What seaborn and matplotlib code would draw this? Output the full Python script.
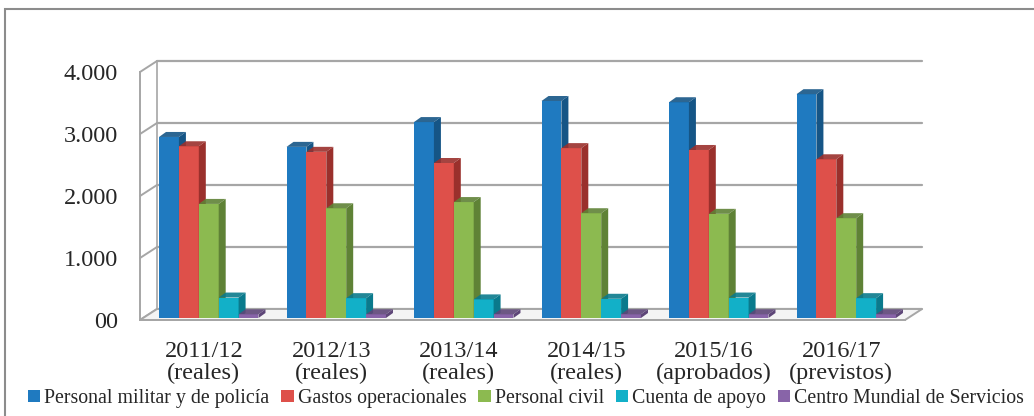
import matplotlib
matplotlib.use("Agg")
import matplotlib.pyplot as plt
import matplotlib.transforms as mtransforms
from matplotlib.patches import Polygon, Rectangle, Patch
import seaborn as sns
import pandas as pd
import numpy as np

# Datos (millones de dólares)
periodos = ["2011/12\n(reales)", "2012/13\n(reales)", "2013/14\n(reales)",
            "2014/15\n(reales)", "2015/16\n(aprobados)", "2016/17\n(previstos)"]
series = ["Personal militar y de policía", "Gastos operacionales", "Personal civil",
          "Cuenta de apoyo", "Centro Mundial de Servicios"]
militar = [2920, 2760, 3160, 3500, 3480, 3610]
gastos = [2770, 2680, 2500, 2740, 2710, 2560]
civil = [1840, 1770, 1870, 1690, 1680, 1610]
apoyo = [330, 320, 300, 310, 330, 320]
centro = [60, 60, 60, 60, 60, 60]
yticks = [0, 1000, 2000, 3000, 4000]
ylabels = ["00", "1.000", "2.000", "3.000", "4.000"]

front = ["#1f7ac0", "#de504a", "#8cba50", "#12b0c8", "#8864a8"]
side = ["#155586", "#9a302c", "#5f8236", "#0a7a8c", "#5e4678"]

df = pd.DataFrame({
    "periodo": periodos * 5,
    "serie": np.repeat(series, len(periodos)),
    "valor": militar + gastos + civil + apoyo + centro,
})

sns.set_style("white")
plt.rcParams["font.family"] = ["Liberation Serif", "DejaVu Serif"]

W, H = 1034, 416
fig = plt.figure(figsize=(W / 100, H / 100), dpi=100)
# front plane of the 3d box: x 140..905 px, y 320..72 px
ax = fig.add_axes([140 / W, (H - 320) / H, 765 / W, 248 / H])

sns.barplot(data=df, x="periodo", y="valor", hue="serie", palette=front,
            width=0.78, saturation=1, legend=False, ax=ax, zorder=3)
ax.set_xlim(-0.5, 5.5)
ax.set_ylim(0, 4000)

# px -> data units
ux = 6.0 / 765
uy = 4000 / 248
bx, by = 17 * ux, 11 * uy      # back wall depth
dx, dy = 7 * ux, 5 * uy        # bar depth
grid_c = "#a6a6a6"

# back wall gridlines + left wall diagonals
for v in yticks:
    ax.plot([-0.5 + bx, 5.5 + bx], [v + by, v + by], color=grid_c, lw=1.6,
            clip_on=False, zorder=1)
    ax.plot([-0.5, -0.5 + bx], [v, v + by], color=grid_c, lw=1.4,
            clip_on=False, zorder=1)
ax.plot([-0.5 + bx, -0.5 + bx], [by, 4000 + by], color=grid_c, lw=1.2,
        clip_on=False, zorder=1)

# floor
floor = Polygon([(-0.5, 0), (5.5, 0), (5.5 + bx, by), (-0.5 + bx, by)], closed=True,
                facecolor="#f4f4f4", edgecolor=grid_c, lw=1.4, clip_on=False, zorder=1.5)
ax.add_patch(floor)

# bars: shift slightly inside the box and add side / top faces
shift = mtransforms.ScaledTranslation(5 / 100, 2 / 100, fig.dpi_scale_trans)
n = len(periodos)
for i, p in enumerate(list(ax.patches)[:n * len(series)]):
    s = i // n
    z = 3 + s * 0.1
    p.set_transform(ax.transData + shift)
    p.set_zorder(z)
    p.set_edgecolor("none")
    x0, w, h = p.get_x(), p.get_width(), p.get_height()
    x1 = x0 + w
    sf = Polygon([(x1, 0), (x1 + dx, dy), (x1 + dx, h + dy), (x1, h)], closed=True,
                 facecolor=side[s], edgecolor="none", zorder=z,
                 transform=ax.transData + shift, clip_on=False)
    tp = Polygon([(x0, h), (x1, h), (x1 + dx, h + dy), (x0 + dx, h + dy)], closed=True,
                 facecolor=side[s], edgecolor="none", zorder=z, alpha=0.9,
                 transform=ax.transData + shift, clip_on=False)
    ax.add_patch(sf)
    ax.add_patch(tp)

# axes lines and ticks
for sp in ["top", "right"]:
    ax.spines[sp].set_visible(False)
for sp in ["left", "bottom"]:
    ax.spines[sp].set_color(grid_c)
    ax.spines[sp].set_linewidth(1.4)
    ax.spines[sp].set_zorder(2)
ax.set_yticks(yticks, ylabels)
ax.set_xticks(range(n), periodos)
ax.set_xticks(np.arange(-0.5, 6, 1), minor=True)
ax.tick_params(axis="y", length=4, color=grid_c, labelsize=17.5, pad=12)
ax.tick_params(axis="x", which="major", length=0, labelsize=17.5, pad=15)
ax.tick_params(axis="x", which="minor", length=5, color=grid_c)
for t in ax.get_xticklabels():
    t.set_linespacing(1.05)
ax.set_xlabel("")
ax.set_ylabel("")
ax.grid(False)

# outer chart frame
fig.add_artist(Rectangle((4.5 / W, -0.2), 1.2, (H - 8.5) / H + 0.2,
                         transform=fig.transFigure, fill=False,
                         edgecolor="#8c8c8c", lw=1.5))

handles = [Patch(facecolor=c, edgecolor="none") for c in front]
fig.legend(handles, series, loc="lower left", bbox_to_anchor=(20 / W, 0 / H),
           ncol=5, frameon=False, fontsize=14.3, handlelength=0.62, handleheight=0.62,
           handletextpad=0.2, columnspacing=0.6, borderaxespad=0)

fig.savefig("out.png", dpi=100)
